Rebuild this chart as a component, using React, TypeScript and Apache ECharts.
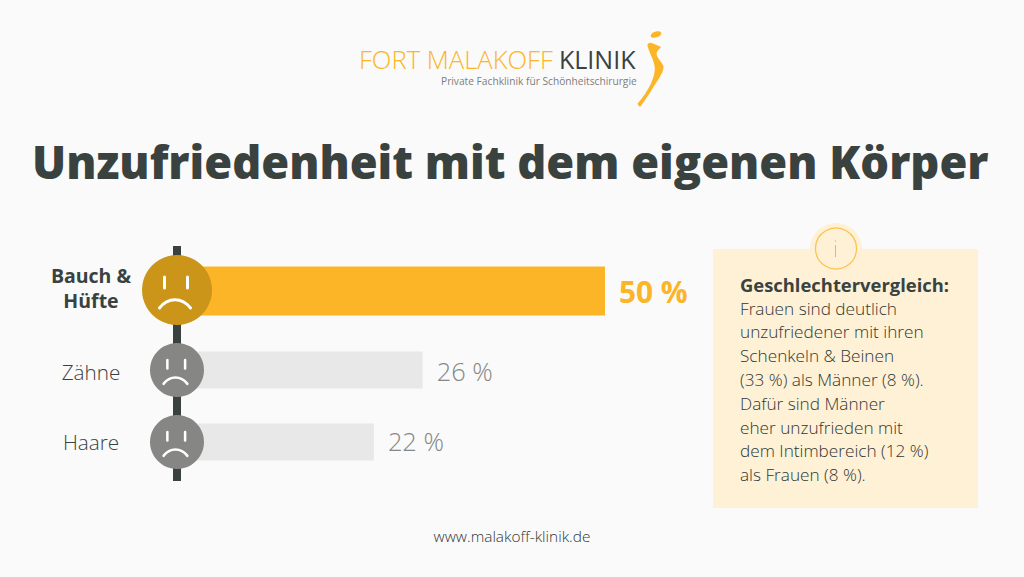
import React, { useEffect, useRef } from "react";
import * as echarts from "echarts";

const categories = ["Bauch &\nHüfte", "Zähne", "Haare"];
const valueLabels = ["50 %", "26 %", "22 %"];
// bar lengths as drawn in the picture (the drawn bars are not proportional to the printed percentages)
const drawnLengths = [50, 28.7, 23];
const rowCentres = [291, 370, 442];
const note = [
  "Frauen sind deutlich",
  "unzufriedener mit ihren",
  "Schenkeln & Beinen",
  "(33 %) als Männer (8 %).",
  "Dafür sind Männer",
  "eher unzufrieden mit",
  "dem Intimbereich (12 %)",
  "als Frauen (8 %).",
];
const FONT = "Open Sans";
const DARK = "#39423f";

echarts.graphic.registerShape(
  "logoBody",
  echarts.graphic.extendPath(
    "M52 60 C55 54 60 52 65 54 C75 58 85 62 93 66 C90 72 80 75 80 88 C82 102 100 115 101 127 C100 145 80 170 65 195 C55 212 42 230 30 246 L22 237 C38 220 52 198 62 178 C70 160 76 140 74 125 C72 105 58 85 52 60 Z",
    {}
  )
);

export default function App() {
  const ref = useRef<HTMLDivElement>(null);
  useEffect(() => {
    const chart = echarts.init(ref.current!, null, { renderer: "svg" });
    const rows = categories.map((c, i) => [drawnLengths[i], rowCentres[i], i]);
    chart.setOption({
      animation: false,
      backgroundColor: "#fafafa",
      title: {
        text: "Unzufriedenheit mit dem eigenen Körper",
        left: 27,
        top: 134,
        textStyle: { fontFamily: FONT, fontSize: 45.2, fontWeight: 800, color: DARK },
      },
      grid: { left: 177, top: 0, right: 419, bottom: 0 },
      xAxis: { type: "value", min: 0, max: 50, show: false },
      yAxis: { type: "value", min: 0, max: 577, inverse: true, show: false },
      series: [
        {
          type: "custom",
          coordinateSystem: "cartesian2d",
          data: rows,
          encode: { x: 0, y: 1 },
          clip: false,
          z: 2,
          renderItem: (_: any, api: any) => {
            const i = api.value(2);
            const big = i === 0;
            const start = api.coord([0, api.value(1)]);
            const end = api.coord([api.value(0), api.value(1)]);
            const cx = start[0];
            const cy = start[1];
            const h = big ? 49 : 37;
            const r = big ? 35 : 27;
            const k = r / 35;
            const fy = big ? cy - 1 : cy;
            const white = { stroke: "#fff", lineWidth: big ? 3 : 2.5, fill: "none", lineCap: "round" };
            const children: any[] = [
              {
                type: "rect",
                shape: { x: cx, y: cy - h / 2, width: end[0] - cx, height: h },
                style: { fill: big ? "#fbb527" : "#e8e8e8" },
              },
              { type: "circle", shape: { cx, cy: fy, r }, style: { fill: big ? "#ca9519" : "#868684" } },
              { type: "line", shape: { x1: cx - 12.5 * k, y1: fy - 13 * k, x2: cx - 12.5 * k, y2: fy - 2 * k }, style: white },
              { type: "line", shape: { x1: cx + 10.5 * k, y1: fy - 13 * k, x2: cx + 10.5 * k, y2: fy - 2 * k }, style: white },
              {
                type: "bezierCurve",
                shape: {
                  x1: cx - 17.5 * k, y1: fy + 18 * k,
                  x2: cx + 13.5 * k, y2: fy + 18 * k,
                  cpx1: cx - 9 * k, cpy1: fy + 7 * k,
                  cpx2: cx + 5 * k, cpy2: fy + 7 * k,
                },
                style: white,
              },
              {
                type: "text",
                style: {
                  x: 91,
                  y: [cy - 3, cy + 2, cy][i],
                  text: categories[i],
                  align: "center",
                  verticalAlign: "middle",
                  fontFamily: FONT,
                  fontSize: big ? 19.5 : 20.7,
                  fontWeight: big ? 700 : 300,
                  lineHeight: 25,
                  fill: DARK,
                },
              },
              {
                type: "text",
                style: {
                  x: end[0] + 14,
                  y: [cy, cy + 1, cy - 1][i],
                  text: valueLabels[i],
                  align: "left",
                  verticalAlign: "middle",
                  fontFamily: FONT,
                  fontSize: big ? 29.8 : 25.4,
                  fontWeight: big ? 700 : 300,
                  fill: big ? "#fbb527" : "#868684",
                },
              },
            ];
            return { type: "group", children };
          },
        },
      ],
      graphic: [
        { type: "rect", z: 1, shape: { x: 173, y: 246, width: 8, height: 235 }, style: { fill: DARK } },
        { type: "text", style: { x: 359, y: 59, text: "FORT MALAKOFF", fontFamily: "Open Sans", fontSize: 25.6, fontWeight: 300, fill: "#fbb527", verticalAlign: "middle" } },
        { type: "text", style: { x: 559, y: 59, text: "KLINIK", fontFamily: "Open Sans", fontSize: 25, fontWeight: 400, fill: DARK, verticalAlign: "middle" } },
        { type: "text", style: { x: 441, y: 81, text: "Private Fachklinik für Schönheitschirurgie", fontFamily: "Open Sans", fontSize: 10.2, fill: "#7d7d7d", verticalAlign: "middle" } },
        { type: "ellipse", rotation: 0.3, x: 656, y: 34.5, shape: { cx: 0, cy: 0, rx: 5.5, ry: 3 }, style: { fill: "#fbb527" } },
        { type: "logoBody", x: 630, y: 25, scaleX: 1 / 3, scaleY: 1 / 3, style: { fill: "#fbb527" } },
        { type: "rect", shape: { x: 713, y: 249, width: 265, height: 259 }, style: { fill: "#fff1d6" } },
        { type: "circle", shape: { cx: 836, cy: 249, r: 26 }, style: { fill: "#fff1d6" } },
        { type: "circle", shape: { cx: 836, cy: 248.5, r: 20.5 }, style: { fill: "#fff1d6", stroke: "#fbc04f", lineWidth: 1.2 } },
        { type: "line", shape: { x1: 835.5, y1: 245, x2: 835.5, y2: 257 }, style: { stroke: "#fbb527", lineWidth: 1 } },
        { type: "circle", shape: { cx: 835.5, cy: 241, r: 0.6 }, style: { fill: "#fbb527" } },
        { type: "text", style: { x: 740, y: 284, text: "Geschlechtervergleich:", fontFamily: FONT, fontSize: 18.4, fontWeight: 700, fill: DARK, verticalAlign: "middle" } },
        ...note.map((t, i) => ({
          type: "text",
          style: { x: 740, y: 308 + i * 23.8, text: t, fontFamily: FONT, fontSize: 17.2, fontWeight: 300, fill: "#2f3735", verticalAlign: "middle" },
        })),
        { type: "text", style: { x: 512, y: 536, text: "www.malakoff-klinik.de", align: "center", fontFamily: FONT, fontSize: 15.4, fontWeight: 300, fill: "#2f3735", verticalAlign: "middle" } },
      ],
    });
    return () => chart.dispose();
  }, []);
  return <div ref={ref} style={{ width: 1024, height: 577, position: "fixed", left: 0, top: 0 }} />;
}
